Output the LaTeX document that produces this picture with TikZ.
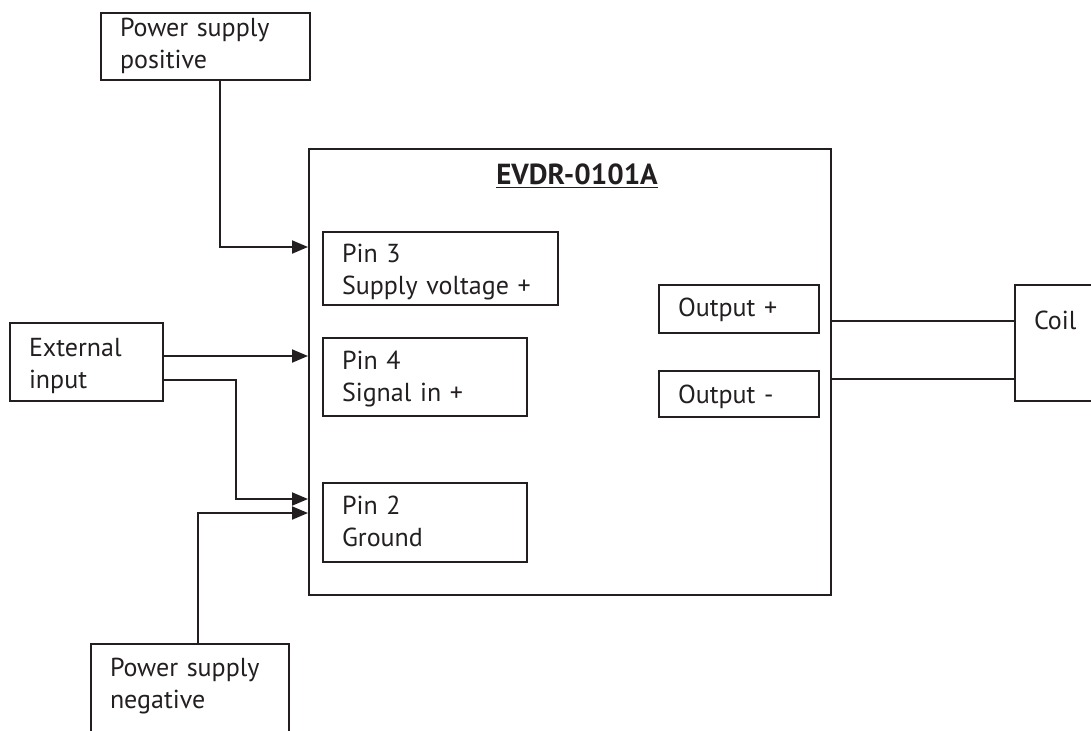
\documentclass[tikz,border=0pt]{standalone}
\usepackage{fontspec}
\setmainfont{PT Sans}
\usetikzlibrary{arrows.meta}
\definecolor{ink}{RGB}{35,31,32}
\tikzset{
  box/.style={draw=ink, line width=1pt, anchor=north west, align=left,
    inner xsep=9.5pt, inner ysep=0pt, text=ink,
    font=\fontsize{13pt}{16pt}\selectfont},
  wire/.style={draw=ink, line width=1pt},
  feed/.style={wire, -{Triangle[length=8pt,width=6.5pt]}}
}
\begin{document}
\begin{tikzpicture}[x=0.5pt,y=-0.5pt]
\useasboundingbox (0,0) rectangle (1091,730);
% supplies and input
\draw (100,12) node[box,text width=85.5pt,text height=11.5pt,text depth=22pt] (pspos) {Power supply\\positive};
\draw (9,322) node[box,text width=57.5pt,text height=16.5pt,text depth=22.5pt] (extin) {External\\input};
\draw (90,643) node[box,text width=80pt,text height=16pt,text depth=42.5pt] (psneg) {Power supply\\negative};
% driver
\draw (308,148) node[box,align=center,text width=242pt,text height=17.5pt,text depth=205.5pt] (evdr) {\hspace*{7pt}{\fontsize{14.5pt}{16pt}\selectfont\textbf{\underline{EVDR-0101A}}}};
\draw (322,231) node[box,text width=98.5pt,text height=15pt,text depth=21.5pt] (pin3) {Pin 3\\Supply voltage +};
\draw (322,337) node[box,text width=83pt,text height=15.5pt,text depth=23.5pt] (pin4) {Pin 4\\Signal in +};
\draw (322,482) node[box,text width=83pt,text height=15.5pt,text depth=24pt] (pin2) {Pin 2\\Ground};
\draw (658,284) node[box,text width=61pt,text height=15.5pt,text depth=8.5pt] (outp) {Output +};
\draw (658,370) node[box,text width=61pt,text height=16pt,text depth=7pt] (outn) {Output -};
% load
\draw (1014,284) node[box,text width=39pt,text height=22pt,text depth=36pt] (coil) {Coil};
%
\draw[feed] (pspos.south -| 220,0) |- (evdr.west |- 0,247);
\draw[feed] (extin.east |- 0,356) -- (evdr.west |- 0,356);
\draw[feed] (extin.east |- 0,380) -| (236,499) -- (evdr.west |- 0,499);
\draw[feed] (psneg.north -| 198,0) |- (evdr.west |- 0,513);
\draw[wire] (evdr.east |- 0,321) -- (coil.west |- 0,321);
\draw[wire] (evdr.east |- 0,379) -- (coil.west |- 0,379);
\end{tikzpicture}
\end{document}
